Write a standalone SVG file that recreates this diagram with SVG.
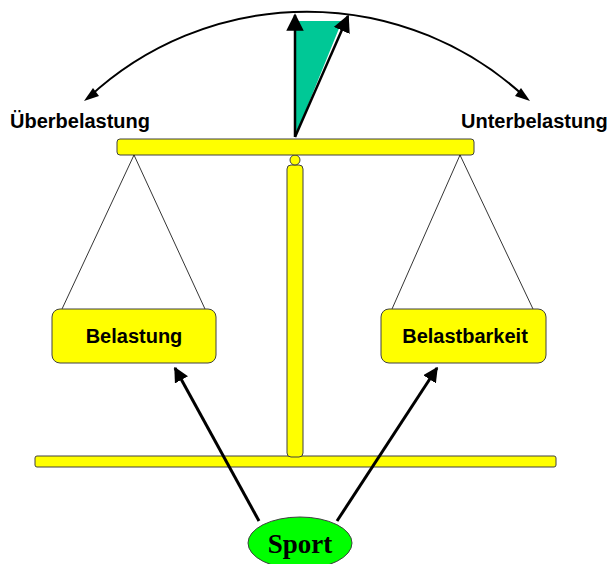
<svg xmlns="http://www.w3.org/2000/svg" width="610" height="564" viewBox="0 0 610 564">
<defs>
<style>
.y{fill:#ffff00;stroke:#404040;stroke-width:1}
.lbl{font-family:"Liberation Sans",Arial,sans-serif;font-weight:bold;font-size:20px;fill:#000}
.str{stroke:#000;stroke-width:0.8;fill:none}
.arr{stroke:#000;stroke-width:3;fill:none}
</style>
<marker id="ah" viewBox="0 0 10 10" refX="9" refY="5" markerWidth="5" markerHeight="5" orient="auto" markerUnits="strokeWidth">
<path d="M0,0 L10,5 L0,10 z" fill="#000"/>
</marker>
<marker id="ah2" viewBox="0 0 10 10" refX="9" refY="5" markerWidth="7" markerHeight="7" orient="auto" markerUnits="strokeWidth">
<path d="M0,0 L10,5 L0,10 z" fill="#000"/>
</marker>
</defs>
<g id="scale">
<rect class="y" x="35" y="456" width="521" height="11" rx="2"/>
<rect class="y" x="287" y="165" width="16" height="292" rx="4"/>
<circle class="y" cx="295" cy="160" r="5"/>
<rect class="y" x="117" y="139" width="357" height="16" rx="3"/>
</g>
<g id="strings">
<path class="str" d="M134,155 L62,309 M134,155 L205,309"/>
<path class="str" d="M460,155 L392,309 M460,155 L533,309"/>
</g>
<g id="needle">
<polygon points="295,137 295,21 342,21" fill="#00c896" stroke="none"/>
<line x1="295" y1="137" x2="295" y2="15" stroke="#000" stroke-width="2.5" marker-end="url(#ah2)"/>
<line x1="298" y1="137" x2="350" y2="19" stroke="#fff" stroke-width="2"/>
<line x1="295" y1="137" x2="348" y2="16" stroke="#000" stroke-width="2.5" marker-end="url(#ah2)"/>
</g>
<g id="connectors">
<path d="M88,98 A 321 321 0 0 1 526,98" fill="none" stroke="#000" stroke-width="2"/>
<polygon points="84,101 93,88 99,96" fill="#000"/>
<polygon points="530,101 515,96 521,88" fill="#000"/>
<path class="arr" d="M259,521 L175,368" marker-end="url(#ah)"/>
<path class="arr" d="M337,521 L437,368" marker-end="url(#ah)"/>
</g>
<g id="ueberbelastung"><text class="lbl" x="10" y="128">Überbelastung</text></g>
<g id="unterbelastung"><text class="lbl" x="461" y="128">Unterbelastung</text></g>
<g id="belastung">
<rect class="y" x="52" y="309" width="164" height="54" rx="8"/>
<text class="lbl" x="134" y="343" text-anchor="middle">Belastung</text>
</g>
<g id="belastbarkeit">
<rect class="y" x="381" y="309" width="165" height="54" rx="8"/>
<text class="lbl" x="465" y="343" text-anchor="middle">Belastbarkeit</text>
</g>
<g id="sport">
<ellipse cx="300" cy="543" rx="52" ry="26" fill="#00ff00" stroke="#404040" stroke-width="1"/>
<text x="300" y="553" text-anchor="middle" font-family="'Liberation Serif','Times New Roman',serif" font-weight="bold" font-size="27">Sport</text>
</g>
</svg>
